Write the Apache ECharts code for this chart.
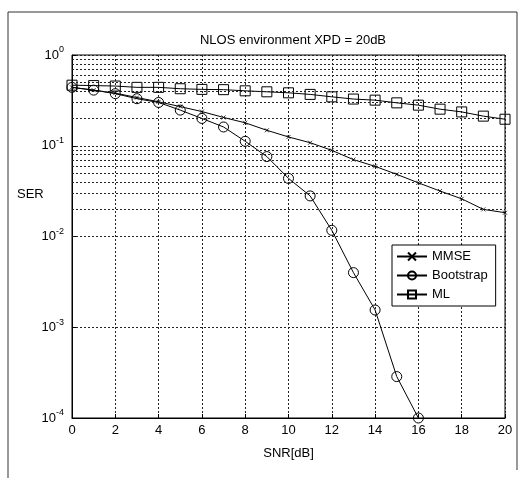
<!DOCTYPE html>
<html>
<head>
<meta charset="utf-8">
<script src="https://cdn.jsdelivr.net/npm/echarts@6/dist/echarts.min.js"></script>
<style>
html,body{margin:0;padding:0;background:#fff;}
#c{width:523px;height:478px;}
</style>
</head>
<body>
<div id="c"></div>
<script>
var snr = [0,1,2,3,4,5,6,7,8,9,10,11,12,13,14,15,16,17,18,19,20];
var mmse = [0.44,0.41,0.38,0.34,0.305,0.27,0.238,0.205,0.179,0.148,0.125,0.108,0.089,0.0703,0.0593,0.0484,0.039,0.0317,0.026,0.0199,0.0183];
var bootstrapSnr = [0,1,2,3,4,5,6,7,8,9,10,11,12,13,14,15,16];
var bootstrap = [0.44,0.41,0.375,0.33,0.3,0.247,0.2,0.161,0.112,0.076,0.0437,0.028,0.0117,0.004,0.00155,0.000286,0.0001];
var ml = [0.465,0.46,0.455,0.44,0.44,0.425,0.418,0.415,0.403,0.393,0.383,0.368,0.346,0.327,0.318,0.297,0.28,0.253,0.236,0.212,0.196];
var xTicks = [0,2,4,6,8,10,12,14,16,18,20];
var yTickExps = [0,-1,-2,-3,-4];
var legendNames = ['MMSE','Bootstrap','ML'];

var FONT = 'Liberation Sans, Arial, Helvetica, sans-serif';

function pairs(xs, ys){ return xs.map(function(x,i){ return [x, ys[i]]; }); }

// dotted minor gridlines for log axis (2..9 of each decade)
var minorGrid = [];
for (var e = -4; e < 0; e++) {
  for (var k = 2; k <= 9; k++) minorGrid.push({yAxis: k * Math.pow(10, e)});
}

var dotted = {color:'#222', width:1, type:[2,2]};

var chart = echarts.init(document.getElementById('c'), null, {renderer:'canvas'});
chart.setOption({
  animation:false,
  backgroundColor:'#fff',
  textStyle:{fontFamily:FONT, color:'#000'},
  title:{
    text:'NLOS environment XPD = 20dB',
    left:288, top:29, textAlign:'center',
    textStyle:{fontFamily:FONT, fontSize:13, fontWeight:'normal', color:'#000'}
  },
  graphic:[{
    type:'polyline',
    shape:{points:[[8,478],[8,12],[517,12],[517,470]]},
    style:{stroke:'#333', lineWidth:1, fill:null},
    silent:true
  },{
    type:'text', left:17, top:188, silent:true,
    style:{text:'SER', fontFamily:FONT, fontSize:13, fill:'#000'}
  }],
  grid:{left:72, top:55, width:433, height:363, show:true, borderColor:'#000', borderWidth:1, backgroundColor:'transparent'},
  legend:{
    data:legendNames,
    orient:'vertical',
    left:392, top:245,
    itemWidth:30, itemHeight:10, itemGap:6,
    padding:[5,8,5,4],
    borderColor:'#000', borderWidth:1, borderRadius:0,
    backgroundColor:'#fff',
    textStyle:{fontFamily:FONT, fontSize:13, color:'#000'}
  },
  xAxis:{
    type:'value', min:0, max:20, interval:2,
    name:'SNR[dB]', nameLocation:'middle', nameGap:29,
    nameTextStyle:{fontFamily:FONT, fontSize:13, color:'#000'},
    axisLine:{lineStyle:{color:'#000', width:1}},
    axisTick:{inside:true, length:4, lineStyle:{color:'#000'}},
    axisLabel:{fontFamily:FONT, fontSize:13, color:'#000', margin:6,
      formatter:function(v){ return xTicks.indexOf(v) >= 0 ? String(v) : ''; }},
    splitLine:{show:true, lineStyle:dotted}
  },
  yAxis:{
    type:'log', logBase:10, min:1e-4, max:1,
    axisLine:{lineStyle:{color:'#000', width:1}},
    axisTick:{inside:true, length:4, lineStyle:{color:'#000'}},
    axisLabel:{
      margin:8,
      formatter:function(v){
        var ex = Math.round(Math.log(v)/Math.LN10);
        if (yTickExps.indexOf(ex) < 0) return '';
        return '{a|10}{b|' + ex + '}';
      },
      rich:{
        a:{fontFamily:FONT, fontSize:13, color:'#000'},
        b:{fontFamily:FONT, fontSize:9, color:'#000', padding:[0,0,10,0]}
      }
    },
    splitLine:{show:true, lineStyle:dotted}
  },
  series:[
    {
      name:'grid', type:'line', data:[], z:1, silent:true,
      markLine:{silent:true, symbol:'none', label:{show:false},
        lineStyle:dotted, animation:false, data:minorGrid}
    },
    {
      name:'MMSE', type:'line', z:3,
      data:pairs(snr, mmse),
      symbol:'path://M0,0L10,10M10,0L0,10', symbolSize:4,
      itemStyle:{color:'rgba(0,0,0,0)', borderColor:'#000', borderWidth:0.8},
      lineStyle:{color:'#000', width:1}
    },
    {
      name:'Bootstrap', type:'line', z:3,
      data:pairs(bootstrapSnr, bootstrap),
      symbol:'circle', symbolSize:10,
      itemStyle:{color:'rgba(0,0,0,0)', borderColor:'#000', borderWidth:1},
      lineStyle:{color:'#000', width:1}
    },
    {
      name:'ML', type:'line', z:3,
      data:pairs(snr, ml),
      symbol:'rect', symbolSize:10,
      itemStyle:{color:'rgba(0,0,0,0)', borderColor:'#000', borderWidth:1},
      lineStyle:{color:'#000', width:1}
    }
  ]
});
</script>
</body>
</html>
